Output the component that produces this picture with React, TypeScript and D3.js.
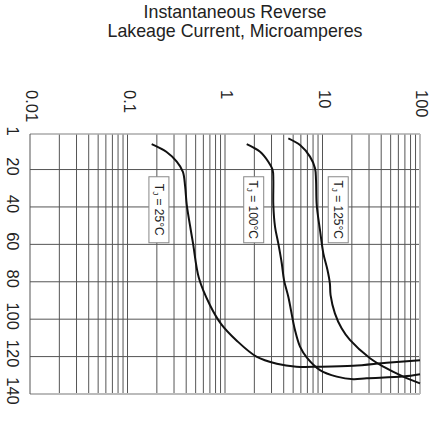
import React from "react";
import * as d3 from "d3";

// tick values and labels
const xTicks = [0.01, 0.1, 1, 10, 100];
const xTickLabels = ["0.01", "0.1", "1", "10", "100"];
const yTicks = [1, 20, 40, 60, 80, 100, 120, 140];
const yGrid = [20, 40, 60, 80, 100, 120];
const decades = [0.01, 0.1, 1, 10];
const titleLines = ["Instantaneous Reverse", "Lakeage Current, Microamperes"];

// curves: [current (uA), vertical axis value]
const curve25 = [
  [0.177, 6.4], [0.25, 10.5], [0.32, 15.8], [0.37, 21.2], [0.39, 29],
  [0.405, 38.8], [0.44, 50.6], [0.47, 59.5], [0.54, 78],
  [0.7, 92.4], [0.91, 102.5], [1.32, 111.5], [2.1, 120], [3.4, 123.8],
  [5.4, 125.4], [9.4, 125.4], [20.7, 124.9], [45.5, 123.3], [100, 121.9],
];
const curve100 = [
  [1.67, 6.4], [2.29, 10.5], [2.78, 15.8], [3.08, 20.2], [3.13, 25.6],
  [3.13, 38.8], [3.26, 50.6], [3.52, 59.5], [3.82, 70.1], [4.03, 79.1],
  [4.46, 88], [5.22, 105.8], [5.88, 114.7], [6.88, 120.4], [9.42, 127.2],
  [14, 130.7], [20.7, 132.1], [28.4, 131.6], [67.4, 130.7], [100, 129.5],
];
const curve125 = [
  [4.46, 3.3], [5.88, 6.9], [7.44, 13.1], [8.38, 19.3], [8.58, 25.6],
  [8.72, 38.8], [9.42, 52.3], [10.2, 64.8], [11.25, 73.7], [11.9, 80.8],
  [12.1, 87.1], [13.4, 96.9], [15.7, 104.9], [19.1, 111.1], [30.7, 120.9],
  [42.1, 125.4], [67.4, 130.7], [100, 134.3],
];
const curves = [curve25, curve100, curve125];

// temperature labels
const labelTemps = ["25", "100", "125"];
const labelAt = [[0.21, 41.5], [1.97, 41.5], [14.5, 41.5]];

const W = 433, H = 424;
const margin = { top: 134, right: 13, bottom: 30, left: 30 };
const font = "Liberation Sans, Arial, sans-serif";

export default function App() {
  const x = d3.scaleLog().domain([0.01, 100]).range([margin.left, W - margin.right]);
  const y = d3.scaleLinear().domain([1, 140]).range([margin.top, H - margin.bottom]);

  const minor: number[] = [];
  decades.forEach((d) => {
    for (let k = 2; k <= 9; k++) minor.push(d * k);
  });
  const vLines = [...xTicks.slice(1, 4), ...minor];

  const line = d3
    .line<number[]>()
    .x((d) => x(d[0]))
    .y((d) => y(d[1]))
    .curve(d3.curveCatmullRom.alpha(0.5));

  const [x0, x1] = x.range();
  const [y0, y1] = y.range();

  return (
    <svg width={W} height={H} style={{ position: "absolute", left: 0, top: 0, background: "#fff" }} fontFamily={font}>
      {titleLines.map((t, i) => (
        <text key={t} x={235} y={18 + i * 19} textAnchor="middle" fontSize={17.8} fill="#222">
          {t}
        </text>
      ))}

      {/* grid */}
      {vLines.map((v) => (
        <line key={"v" + v} x1={x(v)} x2={x(v)} y1={y0} y2={y1} stroke="#555" strokeWidth={1} />
      ))}
      {yGrid.map((v) => (
        <line key={"h" + v} x1={x0} x2={x1} y1={y(v)} y2={y(v)} stroke="#555" strokeWidth={1} />
      ))}
      <line x1={x0} x2={x1} y1={y0} y2={y0} stroke="#aaa" strokeWidth={1.5} />
      <line x1={x0} x2={x1} y1={y1} y2={y1} stroke="#bbb" strokeWidth={2} />
      <line x1={x1} x2={x1} y1={y0} y2={y1} stroke="#bbb" strokeWidth={2} />
      <line x1={x0} x2={x0} y1={y0} y2={y1} stroke="#555" strokeWidth={1} />

      {/* x tick labels */}
      {xTicks.map((v, i) => (
        <text key={"xt" + v} transform={`translate(${x(v) - 4},90) rotate(90)`} fontSize={16.5} fill="#222">
          {xTickLabels[i]}
        </text>
      ))}
      {/* y tick labels */}
      {yTicks.map((v) => (
        <text key={"yt" + v} transform={`translate(7,${y(v) - 3}) rotate(90)`} textAnchor="middle" fontSize={16.5} fill="#222">
          {v}
        </text>
      ))}

      {/* curves */}
      {curves.map((c, i) => (
        <path key={"c" + i} d={line(c) || ""} fill="none" stroke="#111" strokeWidth={2} />
      ))}

      {/* temperature labels */}
      {labelAt.map((p, i) => (
        <g key={"l" + i} transform={`translate(${x(p[0])},${y(p[1])}) rotate(90)`}>
          <rect x={-33} y={-10} width={66} height={20} fill="#fff" stroke="#888" strokeWidth={1} />
          <text textAnchor="middle" dy="0.36em" fontSize={12} fill="#222">
            T<tspan fontSize={8} dy={2}>J</tspan>
            <tspan dy={-2}>{` = ${labelTemps[i]}°C`}</tspan>
          </text>
        </g>
      ))}
    </svg>
  );
}
